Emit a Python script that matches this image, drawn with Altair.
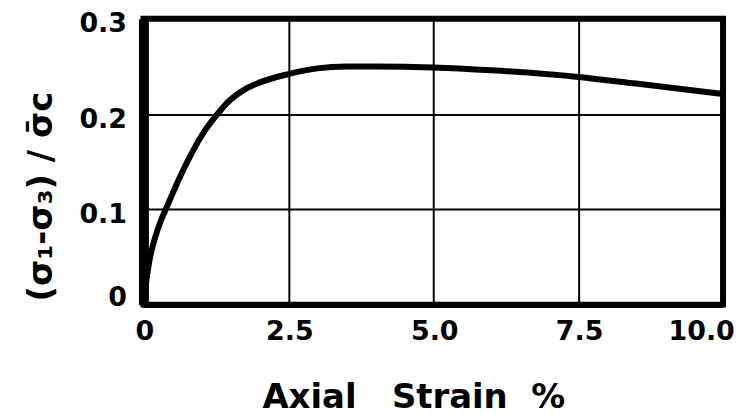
import altair as alt
import pandas as pd

# Data
strain = [0, 0.05, 0.1, 0.2, 0.3, 0.4, 0.6, 0.8, 1.0, 1.25, 1.5, 1.75, 2.0,
          2.5, 3.0, 3.5, 4.0, 5.0, 6.0, 7.5, 8.5, 10.0]
stress = [0, 0.025, 0.045, 0.07, 0.088, 0.102, 0.13, 0.155, 0.177, 0.198,
          0.215, 0.226, 0.233, 0.242, 0.248, 0.25, 0.25, 0.249, 0.246, 0.239,
          0.232, 0.221]
x_ticks = [0, 2.5, 5, 7.5, 10]
y_ticks = [0, 0.1, 0.2, 0.3]
x_title = "Axial\u00a0\u00a0\u00a0Strain\u00a0\u00a0%"
y_title = "(σ₁-σ₃) / σ\u0304c"

df = pd.DataFrame({"strain": strain, "stress": stress})

FONT = "DejaVu Sans"
label_expr = "datum.value == 0 ? '0' : format(datum.value, '.1f')"

chart = alt.Chart(df).mark_line(
    color="black", strokeWidth=6, interpolate="monotone", strokeCap="round"
).encode(
    x=alt.X(
        "strain:Q",
        scale=alt.Scale(domain=[0, 10], nice=False, zero=False),
        axis=alt.Axis(
            values=x_ticks, grid=True, gridColor="black", gridWidth=2, gridOpacity=1,
            domain=True, domainColor="black", domainWidth=6, ticks=False,
            labelFont=FONT, labelFontSize=27, labelFontWeight="bold", labelColor="black",
            labelPadding=14, labelExpr=label_expr, labelFlush=False, labelOverlap=False,
            labelOffset={"condition": {"test": "datum.value == 10", "value": -22}, "value": 1},
            title=x_title, titleFont=FONT, titleFontSize=34, titleFontWeight="bold",
            titleColor="black", titleX=271, titleY=103, titleAlign="center",
            titleBaseline="alphabetic",
        ),
    ),
    y=alt.Y(
        "stress:Q",
        scale=alt.Scale(domain=[0, 0.3], nice=False, zero=False),
        axis=alt.Axis(
            values=y_ticks, grid=True, gridColor="black", gridWidth=2, gridOpacity=1,
            domain=True, domainColor="black", domainWidth=10, ticks=False,
            labelFont=FONT, labelFontSize=27, labelFontWeight="bold", labelColor="black",
            labelPadding=17, labelExpr=label_expr, labelFlush=False, labelOverlap=False,
            labelOffset={"condition": {"test": "datum.value == 0", "value": -7}, "value": 5},
            title=y_title, titleFont=FONT, titleFontSize=34, titleFontWeight="bold",
            titleColor="black", titleAngle=270, titleX=-102, titleY=178,
            titleAlign="center", titleBaseline="middle",
        ),
    ),
).properties(
    width=582,
    height=287,
    autosize=alt.AutoSizeParams(type="none"),
    padding={"left": 136, "top": 10, "right": 12, "bottom": 114},
    background="white",
).configure_view(stroke="black", strokeWidth=6)

chart.save("out.html", embed_options={"renderer": "svg", "actions": False})
